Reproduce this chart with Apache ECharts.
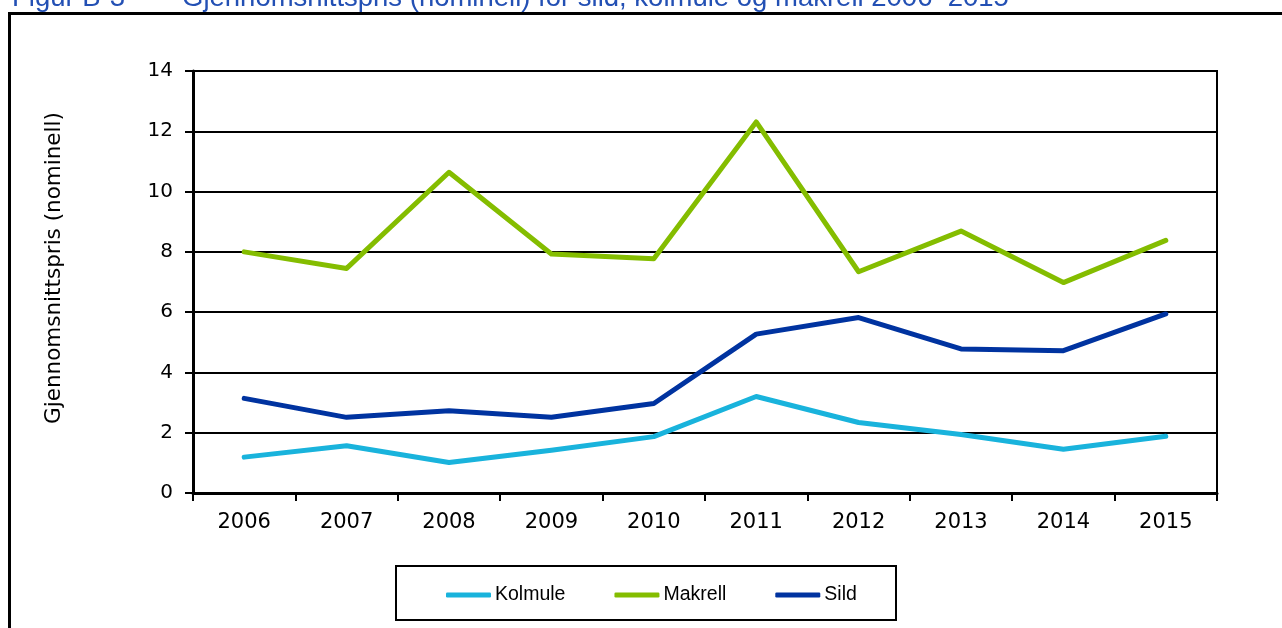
<!DOCTYPE html>
<html>
<head>
<meta charset="utf-8">
<title>Gjennomsnittspris</title>
<script src="https://cdn.jsdelivr.net/npm/echarts@6/dist/echarts.min.js"></script>
<style>
  html, body { margin: 0; padding: 0; background: #fff; }
  #chart { width: 1282px; height: 628px; }
</style>
</head>
<body>
<div id="chart"></div>
<script>
  // år og gjennomsnittspris (nominell) per art
  var years = ['2006', '2007', '2008', '2009', '2010', '2011', '2012', '2013', '2014', '2015']
  var kolmule = [1.19, 1.57, 1.01, 1.42, 1.87, 3.20, 2.34, 1.94, 1.45, 1.88]
  var makrell = [8.00, 7.45, 10.64, 7.93, 7.77, 12.31, 7.34, 8.69, 6.98, 8.38]
  var sild = [3.14, 2.51, 2.73, 2.51, 2.97, 5.27, 5.82, 4.78, 4.72, 5.94]
  var yTicks = [0, 14, 2]   // min, max, interval

  var colors = ['#19b3dc', '#84bd00', '#0033a0']

  var myChart = echarts.init(document.getElementById('chart'))

  function lineSeries(name, data, color) {
    return {
      name: name,
      type: 'line',
      data: data,
      showSymbol: false,
      symbol: 'none',
      lineStyle: { color: color, width: 5, cap: 'round', join: 'round' },
      itemStyle: { color: color }
    }
  }

  myChart.setOption({
    animation: false,
    title: [
      {
        text: 'Figur B-3',
        left: 7, top: -21,
        textStyle: { color: '#2350b4', fontSize: 27.5, fontWeight: 'normal', fontFamily: 'Liberation Sans' }
      },
      {
        text: 'Gjennomsnittspris (nominell) for sild, kolmule og makrell 2006–2015',
        left: 177, top: -21,
        textStyle: { color: '#2350b4', fontSize: 27.5, fontWeight: 'normal', fontFamily: 'Liberation Sans' }
      }
    ],
    graphic: [
      {
        type: 'rect',
        shape: { x: 9.5, y: 13.5, width: 1400, height: 800 },
        style: { fill: null, stroke: '#000', lineWidth: 3 },
        silent: true
      },
      {
        type: 'rect',
        shape: { x: 396, y: 566, width: 500, height: 54 },
        style: { fill: null, stroke: '#000', lineWidth: 2 },
        silent: true
      }
    ],
    legend: {
      data: ['Kolmule', 'Makrell', 'Sild'],
      left: 441,
      top: 580,
      icon: 'roundRect',
      itemWidth: 45,
      itemHeight: 5,
      itemGap: 49,
      textStyle: { color: '#000', fontSize: 19.5, fontFamily: 'Liberation Sans', padding: [0, 0, 0, -1] }
    },
    grid: {
      left: 193,
      right: 65,
      top: 71,
      bottom: 135,
      show: true,
      borderColor: '#000',
      borderWidth: 2
    },
    xAxis: {
      type: 'category',
      data: years,
      boundaryGap: true,
      axisLine: { lineStyle: { color: '#000', width: 3 } },
      axisTick: { show: true, length: 8, interval: 0, lineStyle: { color: '#000', width: 2 } },
      axisLabel: { color: '#000', fontSize: 21, fontFamily: 'DejaVu Sans', margin: 19 }
    },
    yAxis: {
      type: 'value',
      min: yTicks[0],
      max: yTicks[1],
      interval: yTicks[2],
      name: 'Gjennomsnittspris (nominell)',
      nameLocation: 'middle',
      nameGap: 128,
      nameTextStyle: { color: '#000', fontSize: 21.5, fontFamily: 'DejaVu Sans', padding: [0, 0, 0, 28] },
      axisLine: { show: true, lineStyle: { color: '#000', width: 3 } },
      axisTick: { show: true, length: 8, lineStyle: { color: '#000', width: 2 } },
      axisLabel: { color: '#000', fontSize: 20, fontFamily: 'DejaVu Sans', margin: 20 },
      splitLine: { lineStyle: { color: '#000', width: 2 } }
    },
    series: [
      lineSeries('Kolmule', kolmule, colors[0]),
      lineSeries('Makrell', makrell, colors[1]),
      lineSeries('Sild', sild, colors[2])
    ]
  })
</script>
</body>
</html>
